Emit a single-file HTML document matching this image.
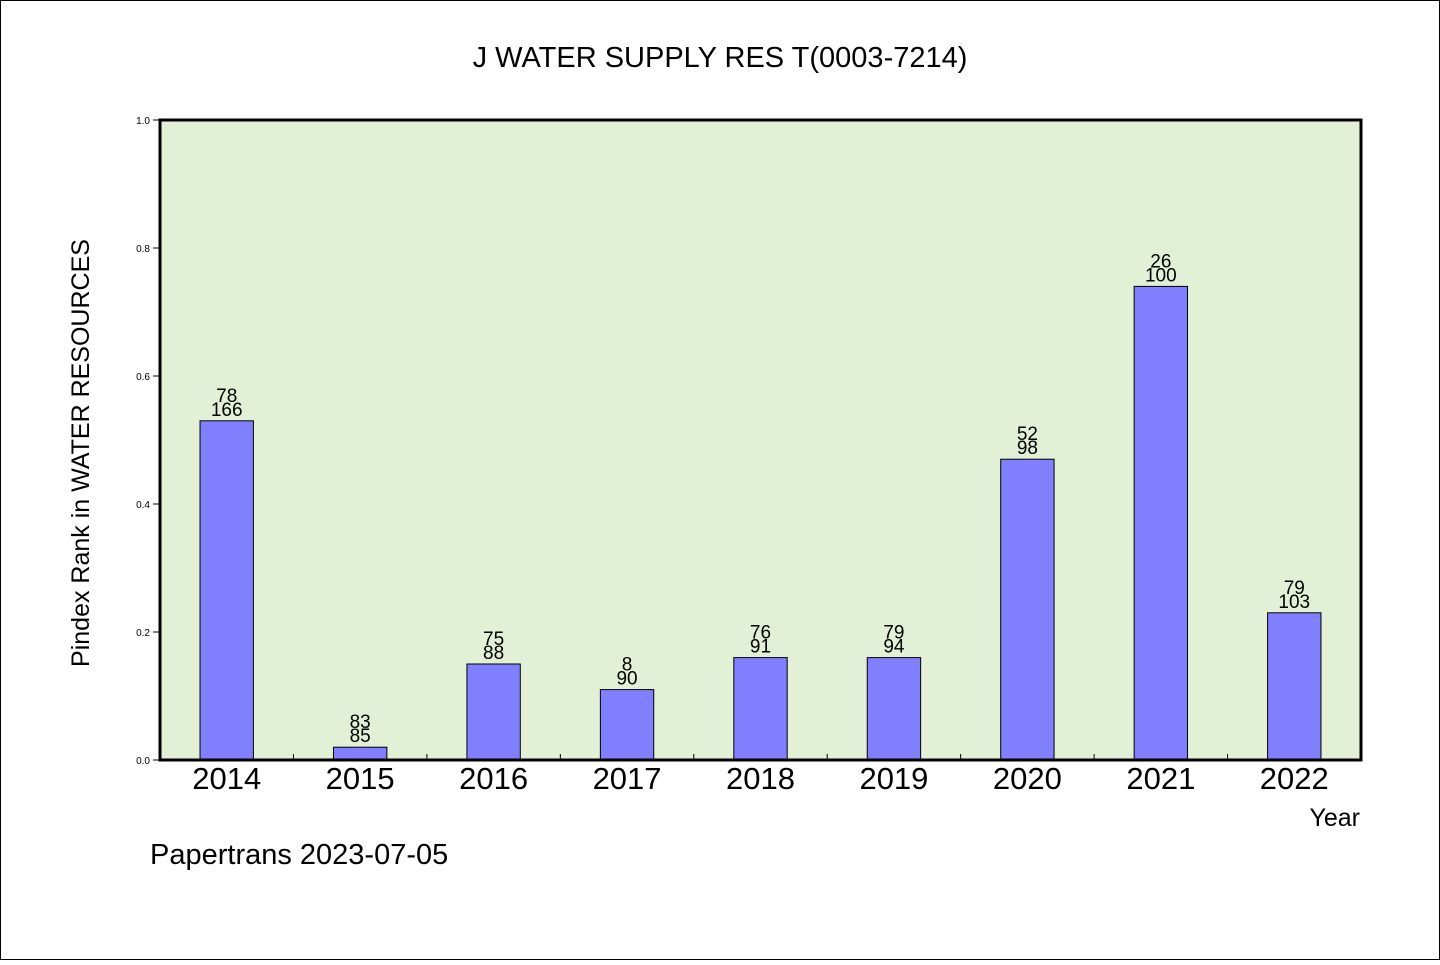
<!DOCTYPE html>
<html><head><meta charset="utf-8"><style>
body{margin:0;background:#fff}
svg text{font-family:"WenQuanYi Zen Hei","Liberation Sans",sans-serif}
</style></head><body>
<svg width="1440" height="960" xmlns="http://www.w3.org/2000/svg">
<rect x="0.5" y="0.5" width="1439" height="959" fill="#fff" stroke="#000"/>
<text x="720" y="67" font-size="29" text-anchor="middle">J WATER SUPPLY RES T(0003-7214)</text>
<rect x="160" y="120" width="1201" height="640" fill="#e2f0d6"/>
<g id="marks"></g>
<rect x="160" y="120" width="1201" height="640" fill="none" stroke="#000" stroke-width="3"/>
<text transform="translate(89,453) rotate(-90)" font-size="25" text-anchor="middle">Pindex Rank in WATER RESOURCES</text>
<text x="1360" y="826" font-size="25" text-anchor="end">Year</text>
<text x="150" y="864" font-size="29">Papertrans 2023-07-05</text>
</svg>
<script>
const categories=["2014","2015","2016","2017","2018","2019","2020","2021","2022"];
const values=[0.53,0.02,0.15,0.11,0.16,0.16,0.47,0.74,0.23];
const topLabels=["78","83","75","8","76","79","52","26","79"];
const bottomLabels=["166","85","88","90","91","94","98","100","103"];
const yTicks=[0,0.2,0.4,0.6,0.8,1.0];
const X0=160,W=1201,Y0=760,H=640;
const band=W/categories.length;
const xc=i=>X0+band*(i+0.5);
const y=v=>Y0-v*H;
const g=document.getElementById('marks');
const NS="http://www.w3.org/2000/svg";
function mk(t,a){const e=document.createElementNS(NS,t);for(const k in a)e.setAttribute(k,a[k]);g.appendChild(e);return e;}
yTicks.forEach(v=>{
 const l=mk('line',{x1:153,x2:160,y1:y(v),y2:y(v),stroke:'#000'});
 
 
 const t=mk('text',{x:150,y:y(v)+4,'font-size':10,'text-anchor':'end'});
 t.textContent=v.toFixed(1);
 
 
});
for(let i=1;i<categories.length;i++){
 const l=mk('line',{x1:X0+band*i,x2:X0+band*i,y1:754,y2:760,stroke:'#000'});
 
 
}
const bw=band*0.4;
categories.forEach((c,i)=>{
 const r=mk('rect',{x:xc(i)-bw/2,y:y(values[i]),width:bw,height:values[i]*H,fill:'#8080ff',stroke:'#000','stroke-width':1});
 
 
 const t1=mk('text',{x:xc(i),y:y(values[i])-19,'font-size':19,'text-anchor':'middle'});
 t1.textContent=topLabels[i];
 
 
 const t2=mk('text',{x:xc(i),y:y(values[i])-5,'font-size':19,'text-anchor':'middle'});
 t2.textContent=bottomLabels[i];
 
 
 const xl=mk('text',{x:xc(i),y:789,'font-size':31,'text-anchor':'middle'});
 xl.textContent=c;
 
 
});
</script>
</body></html>
